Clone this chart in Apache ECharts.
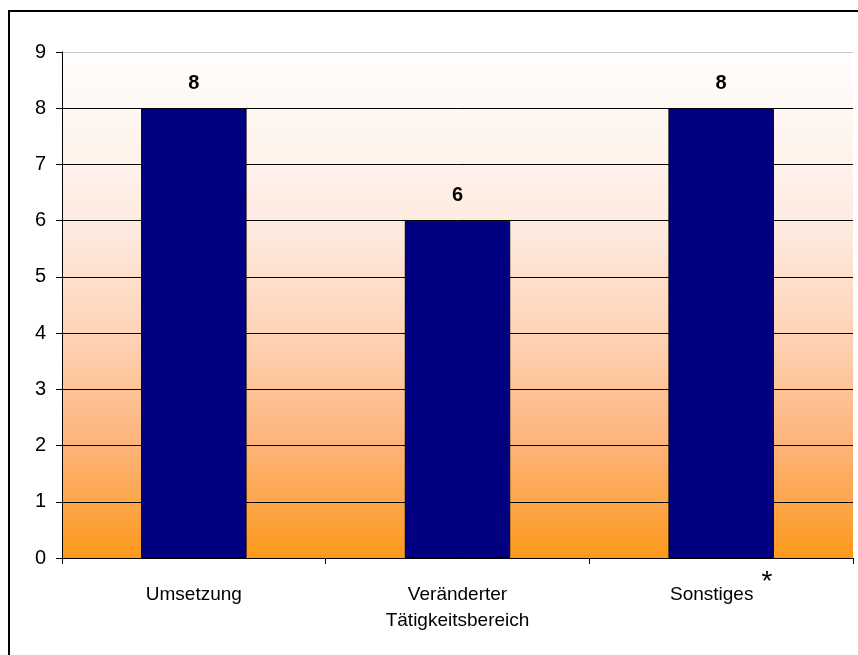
<!DOCTYPE html>
<html><head><meta charset="utf-8">
<script src="https://cdn.jsdelivr.net/npm/echarts@6/dist/echarts.min.js"></script>
<style>html,body{margin:0;padding:0;background:#fff}#c{width:858px;height:655px}</style>
</head><body><div id="c"></div>
<script>
const categories = ['Umsetzung', 'Veränderter\nTätigkeitsbereich', 'Sonstiges{sup|*}'];
const values = [8, 6, 8];
const yTicks = [0, 1, 2, 3, 4, 5, 6, 7, 8, 9];

const chart = echarts.init(document.getElementById('c'));
const font = '"Liberation Sans", Arial, sans-serif';
chart.setOption({
  animation: false,
  backgroundColor: '#fff',
  graphic: [{
    type: 'rect', shape: {x: 9, y: 11, width: 900, height: 700},
    style: {fill: 'none', stroke: '#000', lineWidth: 2}, z: 0, silent: true
  }],
  grid: {
    left: 62, top: 52, right: 5, bottom: 97, show: true, borderWidth: 0,
    backgroundColor: new echarts.graphic.LinearGradient(0, 0, 0, 1, [
      {offset: 0, color: '#fffefd'},
      {offset: 0.35, color: '#feeadf'},
      {offset: 0.55, color: '#fed4b8'},
      {offset: 0.78, color: '#fdb378'},
      {offset: 1, color: '#fd991c'}
    ])
  },
  xAxis: {
    type: 'category', data: categories,
    axisLine: {lineStyle: {color: '#000', width: 1}},
    axisTick: {show: true, length: 6, lineStyle: {color: '#000'}},
    axisLabel: {
      color: '#000', fontFamily: font, fontSize: 19, margin: 24, lineHeight: 26,
      rich: {sup: {fontSize: 28, fontFamily: font, color: '#000', verticalAlign: 'bottom', padding: [0, 0, 12, 8]}}
    }
  },
  yAxis: {
    type: 'value', min: 0, max: 9, interval: 1,
    axisLine: {show: true, lineStyle: {color: '#000', width: 1}},
    axisTick: {show: true, length: 6, lineStyle: {color: '#000'}},
    axisLabel: {color: '#000', fontFamily: font, fontSize: 20, margin: 16,
      formatter: v => yTicks.includes(v) ? String(v) : ''},
    splitLine: {show: true, lineStyle: {color: ['#000','#000','#000','#000','#000','#000','#000','#000','#000','#c8c8c8'], width: 1}}
  },
  series: [{
    type: 'bar', data: values, barWidth: '40%',
    itemStyle: {color: '#000080', borderColor: '#000', borderWidth: 1},
    label: {show: true, position: 'top', distance: 15, color: '#000', fontFamily: font, fontSize: 20, fontWeight: 'bold'}
  }]
});
</script></body></html>
